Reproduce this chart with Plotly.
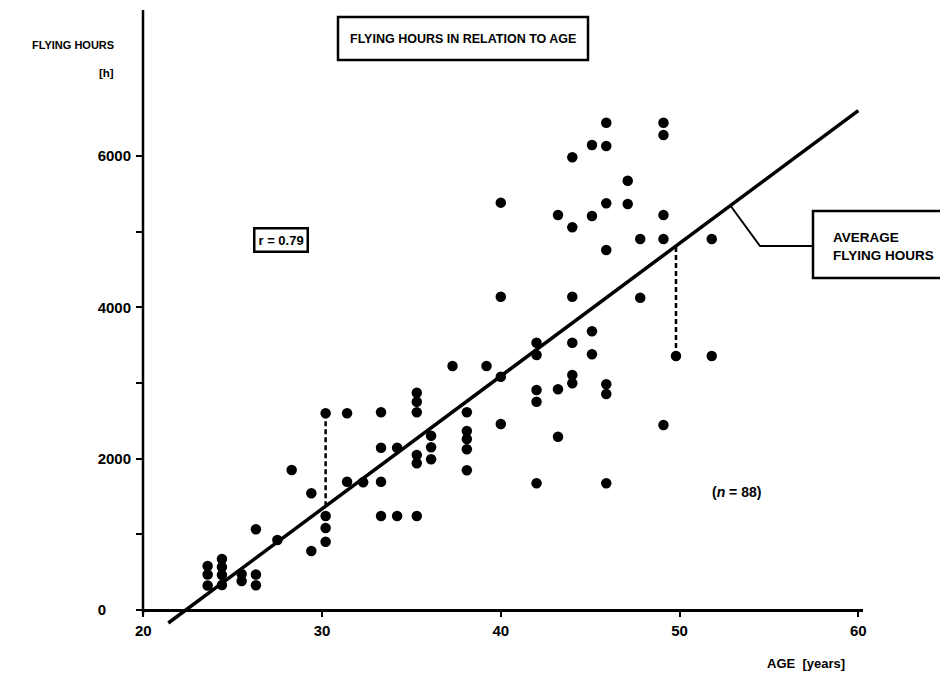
import plotly.graph_objects as go

# ---- data ----
age = [
    23.6, 23.6, 23.6,
    24.4, 24.4, 24.4, 24.4,
    25.5, 25.5,
    26.3, 26.3, 26.3,
    27.5, 28.3,
    29.4, 29.4,
    30.2, 30.2, 30.2, 30.2,
    31.4, 31.4, 32.3,
    33.3, 33.3, 33.3, 33.3,
    34.2, 34.2,
    35.3, 35.3, 35.3, 35.3, 35.3, 35.3,
    36.1, 36.1, 36.1,
    37.3,
    38.1, 38.1, 38.1, 38.1, 38.1,
    39.2,
    40.0, 40.0, 40.0, 40.0,
    42.0, 42.0, 42.0, 42.0, 42.0,
    43.2, 43.2, 43.2,
    44.0, 44.0, 44.0, 44.0, 44.0, 44.0,
    45.1, 45.1, 45.1, 45.1,
    45.9, 45.9, 45.9, 45.9, 45.9, 45.9, 45.9,
    47.1, 47.1,
    47.8, 47.8,
    49.1, 49.1, 49.1, 49.1, 49.1,
    49.8,
    51.8, 51.8,
]
hours = [
    581, 469, 324,
    674, 568, 463, 330,
    476, 383,
    1066, 469, 326,
    925, 1850,
    1542, 780,
    2600, 1242, 1084, 903,
    2600, 1695, 1688,
    2613, 2145, 1695, 1242,
    2145, 1242,
    2872, 2753, 2613, 2048, 1939, 1242,
    2303, 2150, 1992,
    3225,
    2613, 2366, 2260, 2124, 1846,
    3225,
    5383, 4140, 3083, 2458,
    3532, 3370, 2907, 2753, 1674,
    5220, 2917, 2290,
    5982, 5058, 4140, 3532, 3106, 2996,
    6145, 5207, 3683, 3379,
    6440, 6132, 5375, 4758, 2983, 2854, 1674,
    5673, 5365,
    4903, 4127,
    6440, 6277, 5220, 4903, 2445,
    3357,
    4903, 3357,
]

# regression line ("average flying hours") end points
line_age = [21.4, 60.0]
line_hours = [-172, 6600]

# residual examples (dashed drops)
drop_age = [30.2, 49.8]
drop_hours = [2600, 3357]

x_ticks = [20, 30, 40, 50, 60]
y_ticks = [0, 1000, 2000, 3000, 4000, 5000, 6000]
FS = "\u2007"
y_ticktext = ["0" + FS * 3, "", "2000", "", "4000", "", "6000"]

# ---- layout geometry (page has an 8 px body margin) ----
OFF = 8
W, H = 940, 672
L, R, T, B = 135, 85, 2, 50
PW, PH = W - L - R, H - T - B
XR = [19.983, 19.983 + PW / 17.875]
YR = [-264.3, 7929]

FONT = "Liberation Sans Narrow, Arial Narrow, Liberation Sans, Arial, sans-serif"


def px(x):
    return (x - OFF - L) / PW


def py(y):
    return (H - B - (y - OFF)) / PH


def line_at(a):
    s = (line_hours[1] - line_hours[0]) / (line_age[1] - line_age[0])
    return line_hours[0] + s * (a - line_age[0])


fig = go.Figure()

# dashed residual lines
for a, h in zip(drop_age, drop_hours):
    fig.add_trace(go.Scatter(
        x=[a, a], y=[h, line_at(a)], mode="lines",
        line=dict(color="black", width=2.5, dash="5px,3px"),
        hoverinfo="skip", showlegend=False))

# regression line
fig.add_trace(go.Scatter(
    x=line_age, y=line_hours, mode="lines",
    line=dict(color="black", width=3.5), showlegend=False))

# data points
fig.add_trace(go.Scatter(
    x=age, y=hours, mode="markers",
    marker=dict(color="black", size=10.5), showlegend=False,
    cliponaxis=False))

shapes = [
    # y axis line from 0 up
    dict(type="line", xref="paper", yref="y", x0=0, x1=0, y0=-50, y1=YR[1],
         line=dict(color="black", width=2.5)),
    # title box
    dict(type="rect", xref="paper", yref="paper",
         x0=px(338), x1=px(588), y0=py(60), y1=py(17),
         line=dict(color="black", width=2.5)),
    # box round the label of the line
    dict(type="rect", xref="paper", yref="paper",
         x0=px(813), x1=px(952), y0=py(278), y1=py(211),
         line=dict(color="black", width=2.5)),
    # connector from line to box
    dict(type="path", xref="paper", yref="paper",
         path=f"M {px(730)},{py(205)} L {px(760)},{py(246)} L {px(813)},{py(246)}",
         line=dict(color="black", width=2)),
]

bold = dict(family=FONT, color="black", weight="bold")

annotations = [
    dict(text="FLYING HOURS IN RELATION TO AGE", xref="paper", yref="paper",
         x=px(463), y=py(38.5), xanchor="center", yanchor="middle", showarrow=False,
         font=dict(size=12.5, **bold)),
    dict(text="FLYING HOURS", xref="paper", yref="paper",
         x=px(116), y=py(45), xanchor="right", yanchor="middle", showarrow=False,
         font=dict(size=11, **bold)),
    dict(text="[h]", xref="paper", yref="paper",
         x=px(116), y=py(73), xanchor="right", yanchor="middle", showarrow=False,
         font=dict(size=11.5, **bold)),
    dict(text="r = 0.79", xref="paper", yref="paper",
         x=px(281), y=py(240), xanchor="center", yanchor="middle", showarrow=False,
         font=dict(size=13, **bold), bordercolor="black", borderwidth=2.5, borderpad=3),
    dict(text="AVERAGE<br>FLYING HOURS", xref="paper", yref="paper",
         x=px(831), y=py(247), xanchor="left", yanchor="middle", showarrow=False,
         align="left", font=dict(size=13.5, **bold)),
    dict(text="(<i>n</i> = 88)", xref="paper", yref="paper",
         x=px(736), y=py(492), xanchor="center", yanchor="middle", showarrow=False,
         font=dict(size=14, **bold)),
    dict(text="AGE  [years]", xref="paper", yref="paper",
         x=px(806), y=py(663), xanchor="center", yanchor="middle", showarrow=False,
         font=dict(size=13, **bold)),
]

fig.update_layout(
    width=W, height=H,
    margin=dict(l=L, r=R, t=T, b=B, autoexpand=False),
    paper_bgcolor="white", plot_bgcolor="white",
    shapes=shapes, annotations=annotations,
    xaxis=dict(range=XR, anchor="free", position=(0 - YR[0]) / (YR[1] - YR[0]),
               tickvals=x_ticks, ticktext=[str(v) for v in x_ticks],
               ticks="outside", ticklen=5, tickwidth=2, tickcolor="black",
               showline=True, linecolor="black", linewidth=2.5,
               showgrid=False, zeroline=False, ticklabelstandoff=1,
               tickfont=dict(size=15, **bold)),
    yaxis=dict(range=YR, tickvals=y_ticks, ticktext=y_ticktext,
               ticks="outside", ticklen=6, tickwidth=2, tickcolor="black",
               showline=False, showgrid=False, zeroline=False,
               ticklabelstandoff=2, tickfont=dict(size=15, **bold)),
)

fig.write_html("out.html")
